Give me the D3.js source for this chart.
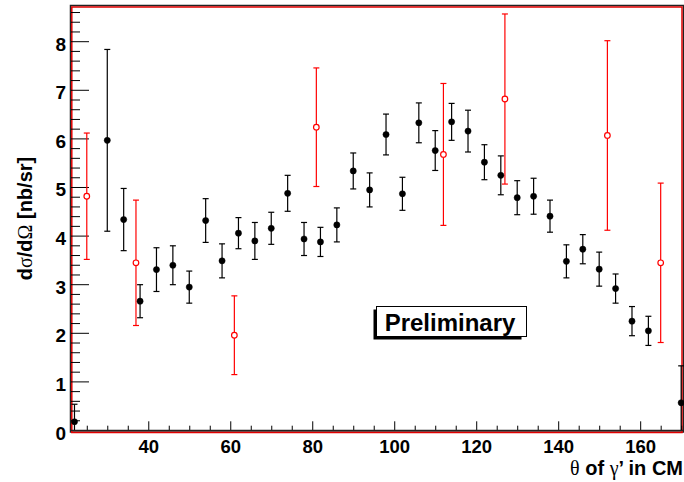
<!DOCTYPE html>
<html><head><meta charset="utf-8">
<script src="https://cdn.jsdelivr.net/npm/d3@7"></script>
<style>body{margin:0;background:#fff}svg{display:block}</style>
</head><body>
<svg id="c" width="684" height="482"></svg>
<script>
// Data
const blackTheta = [22,30,34,38,42,46,50,54,58,62,66,70,74,78,82,86,90,94,98,102,106,110,114,118,122,126,130,134,138,142,146,150,154,158,162,170];
const blackValue = [0.17,5.96,4.33,2.65,3.30,3.39,2.94,4.31,3.48,4.05,3.89,4.15,4.87,3.93,3.87,4.22,5.33,4.94,6.08,4.86,6.32,5.75,6.34,6.15,5.51,5.24,4.78,4.81,4.40,3.47,3.72,3.31,2.91,2.24,2.04,0.56];
const blackError = [0.36,1.87,0.64,0.34,0.45,0.40,0.33,0.45,0.35,0.32,0.38,0.33,0.37,0.34,0.30,0.35,0.37,0.35,0.42,0.34,0.41,0.41,0.38,0.43,0.36,0.40,0.35,0.37,0.33,0.34,0.30,0.35,0.30,0.30,0.30,0.76];
const redTheta = [25,37,61,81,112,127,152,165];
const redValue = [4.81,3.44,1.95,6.23,5.67,6.81,6.06,3.44];
const redError = [1.30,1.29,0.81,1.22,1.46,1.75,1.95,1.64];
const xMajorTicks = [40,60,80,100,120,140,160];
const yMajorTicks = [0,1,2,3,4,5,6,7,8];
const xDomain = [21.15,170.2];
const yDomain = [0,8.724];

const svg = d3.select("#c");
const L=71, R=682, T=6, B=430;
const x = d3.scaleLinear().domain(xDomain).range([L,R]);
const y = d3.scaleLinear().domain(yDomain).range([B,T]);
const font = "'Liberation Sans', Arial, Helvetica, sans-serif";
const greek = "'Liberation Serif', 'DejaVu Serif', serif";

// frame
svg.append("rect").attr("x",70.5).attr("y",5.5).attr("width",613).attr("height",426.5)
  .attr("fill","none").attr("stroke","#222").attr("stroke-width",1.5);
svg.append("rect").attr("x",71.8).attr("y",7).attr("width",610.2).attr("height",425.5)
  .attr("fill","none").attr("stroke","#e00000").attr("stroke-width",1.5);

// axes ticks
const yMinor = d3.range(0,8.71,0.2).filter(v=>Math.abs(v-Math.round(v))>1e-6);
const xMinor = d3.range(25,170.1,5).filter(v=>v%20!==0);

const gy = svg.append("g").attr("transform",`translate(${L},0)`);
gy.append("g").call(d3.axisLeft(y).tickValues(yMinor).tickSize(-9).tickFormat(""))
  .call(g=>g.select(".domain").remove());
gy.append("g").call(d3.axisLeft(y).tickValues(yMajorTicks).tickSize(-18).tickPadding(5).tickFormat(d3.format("d")))
  .call(g=>g.select(".domain").remove())
  .call(g=>g.selectAll("text").attr("dy",9).attr("font-family",font).attr("font-weight","bold").attr("font-size",19).attr("fill","#000"));
gy.selectAll("line").attr("stroke","#000").attr("stroke-width",1);

const gx = svg.append("g").attr("transform",`translate(0,${B})`);
gx.append("g").call(d3.axisBottom(x).tickValues(xMinor).tickSize(-4.3).tickFormat(""))
  .call(g=>g.select(".domain").remove());
gx.append("g").call(d3.axisBottom(x).tickValues(xMajorTicks).tickSize(-8.7).tickFormat(d3.format("d")))
  .call(g=>g.select(".domain").remove())
  .call(g=>g.selectAll("text").attr("y",22.5).attr("dy",0).attr("font-family",font).attr("font-weight","bold").attr("font-size",18.5).attr("fill","#000"));
gx.selectAll("line").attr("stroke","#000").attr("stroke-width",1);
svg.append("line").attr("x1",L).attr("x2",R+1).attr("y1",B+0.3).attr("y2",B+0.3).attr("stroke","#222").attr("stroke-width",1.3);

// clip
svg.append("clipPath").attr("id","cp").append("rect").attr("x",0).attr("y",T).attr("width",684).attr("height",B-T);
const plot = svg.append("g").attr("clip-path","url(#cp)");

function drawSeries(th, val, err, color, open){
  const g = plot.append("g");
  const data = th.map((t,i)=>({t, v:val[i], e:err[i]}));
  const cap = 3;
  data.forEach(d=>{
    const cx = x(d.t), y1 = y(d.v+d.e), y0 = y(d.v-d.e);
    g.append("line").attr("x1",cx).attr("x2",cx).attr("y1",y1).attr("y2",y0).attr("stroke",color).attr("stroke-width",1.2);
    g.append("line").attr("x1",cx-cap).attr("x2",cx+cap).attr("y1",y1).attr("y2",y1).attr("stroke",color).attr("stroke-width",1.2);
    if (d.v-d.e>0) g.append("line").attr("x1",cx-cap).attr("x2",cx+cap).attr("y1",y0).attr("y2",y0).attr("stroke",color).attr("stroke-width",1.2);
  });
  g.selectAll("circle").data(data).join("circle")
    .attr("cx",d=>x(d.t)).attr("cy",d=>y(d.v))
    .attr("r", open?2.8:3.1)
    .attr("fill", open?"#fff":color)
    .attr("stroke", color).attr("stroke-width", open?1.2:0.5);
}
drawSeries(redTheta, redValue, redError, "#ff0000", true);
drawSeries(blackTheta, blackValue, blackError, "#000", false);

// titles
const yt = svg.append("text").attr("transform","translate(32,218.5) rotate(-90)")
  .attr("text-anchor","middle").attr("font-family",font).attr("font-weight","bold").attr("font-size",20);
yt.append("tspan").text("d");
yt.append("tspan").attr("font-family",greek).attr("font-weight","normal").text("σ");
yt.append("tspan").text("/d");
yt.append("tspan").attr("font-family",greek).attr("font-weight","normal").text("Ω");
yt.append("tspan").text(" [nb/sr]");

const xt = svg.append("text").attr("x",683).attr("y",474.8)
  .attr("text-anchor","end").attr("font-family",font).attr("font-weight","bold").attr("font-size",20);
xt.append("tspan").attr("font-family",greek).attr("font-weight","normal").text("θ");
xt.append("tspan").text(" of ");
xt.append("tspan").attr("font-family",greek).attr("font-weight","normal").text("γ");
xt.append("tspan").text("’ in CM");

// Preliminary box
svg.append("rect").attr("x",373.5).attr("y",309.5).attr("width",148).attr("height",30).attr("fill","#000");
svg.append("rect").attr("x",376.5).attr("y",306.5).attr("width",150).attr("height",30).attr("fill","#fff").attr("stroke","#000").attr("stroke-width",1);
svg.append("text").attr("x",450).attr("y",331).attr("text-anchor","middle")
  .attr("font-family",font).attr("font-weight","bold").attr("font-size",24).text("Preliminary");
</script>
</body></html>
